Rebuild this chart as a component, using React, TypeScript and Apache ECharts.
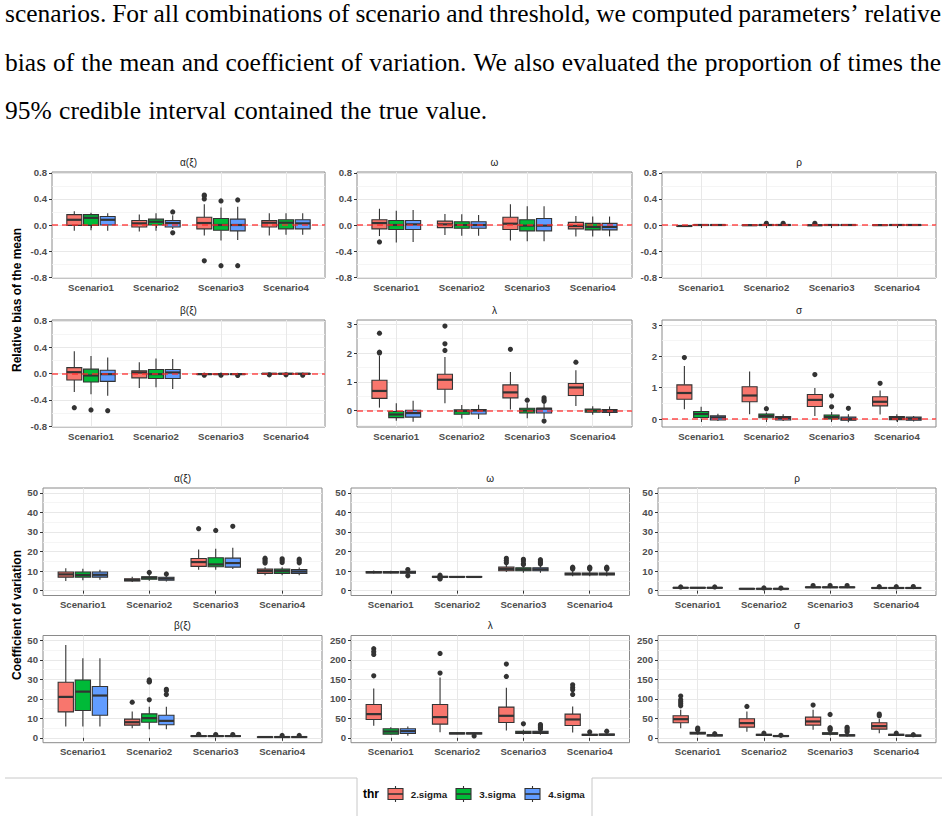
import React, { useEffect, useRef } from 'react';
import * as echarts from 'echarts';

const scenarios = ['Scenario1', 'Scenario2', 'Scenario3', 'Scenario4'];
const thresholds = ['2.sigma', '3.sigma', '4.sigma'];
const thrColors = ['#F8766D', '#00BA38', '#619CFF'];

const paraLines = [
  'scenarios. For all combinations of scenario and threshold, we computed parameters\u2019 relative',
  'bias of the mean and coefficient of variation. We also evaluated the proportion of times the',
  '95% credible interval contained the true value.',
];

// tick values
const rbTicks = [-0.8, -0.4, 0, 0.4, 0.8];
const rbMinor = [-0.6, -0.2, 0.2, 0.6];
const rbWideTicks = [0, 1, 2, 3];
const rbWideMinor = [-0.5, 0.5, 1.5, 2.5];
const cvTicks = [0, 10, 20, 30, 40, 50];
const cvMinor = [5, 15, 25, 35, 45];
const cvWideTicks = [0, 50, 100, 150, 200, 250];
const cvWideMinor = [25, 75, 125, 175, 225];

// Box stats per threshold (2/3/4 sigma): per scenario [lower whisker, Q1, median, Q3, upper whisker]
const rbAlphaBox = [
  [[-0.09, -0.005, 0.08, 0.16, 0.21], [-0.10, -0.03, 0.025, 0.07, 0.16], [-0.16, -0.06, 0.03, 0.12, 0.32], [-0.16, -0.03, 0.035, 0.07, 0.18]],
  [[-0.08, -0.005, 0.11, 0.16, 0.19], [-0.09, 0.0, 0.05, 0.09, 0.18], [-0.24, -0.08, 0.0, 0.10, 0.27], [-0.15, -0.06, 0.035, 0.08, 0.18]],
  [[-0.09, 0.0, 0.08, 0.13, 0.18], [-0.06, -0.03, 0.03, 0.07, 0.15], [-0.23, -0.09, 0.0, 0.09, 0.28], [-0.15, -0.06, 0.025, 0.08, 0.18]],
];
const rbAlphaOut = [
  [[], [], [0.46, 0.445, 0.40, -0.55], []],
  [[], [], [0.37, -0.625], []],
  [[], [0.2, -0.12], [0.385, -0.625], []],
];

const rbOmegaBox = [
  [[-0.17, -0.06, 0.03, 0.08, 0.25], [-0.155, -0.04, 0.01, 0.06, 0.17], [-0.24, -0.07, 0.02, 0.12, 0.32], [-0.175, -0.06, -0.015, 0.04, 0.14]],
  [[-0.27, -0.07, 0.0, 0.07, 0.22], [-0.165, -0.05, 0.0, 0.05, 0.165], [-0.25, -0.09, -0.01, 0.08, 0.29], [-0.175, -0.075, -0.03, 0.025, 0.13]],
  [[-0.26, -0.07, 0.01, 0.07, 0.23], [-0.165, -0.05, 0.0, 0.05, 0.155], [-0.25, -0.09, -0.01, 0.10, 0.29], [-0.175, -0.075, -0.03, 0.025, 0.13]],
];
const rbOmegaOut = [
  [[-0.26], [], [], []],
  [[], [], [], []],
  [[], [], [], []],
];

const rbRhoBox = [
  [[-0.03, -0.022, -0.015, -0.008, 0.0], [-0.012, -0.006, -0.003, 0.0, 0.006], [-0.015, -0.008, -0.004, 0.0, 0.008], [-0.01, -0.005, -0.002, 0.001, 0.006]],
  [[-0.01, -0.004, 0.0, 0.003, 0.008], [-0.008, -0.003, 0.0, 0.003, 0.008], [-0.008, -0.003, 0.0, 0.003, 0.008], [-0.008, -0.003, 0.0, 0.003, 0.008]],
  [[-0.01, -0.004, 0.0, 0.003, 0.008], [-0.008, -0.003, 0.0, 0.003, 0.008], [-0.008, -0.003, 0.0, 0.003, 0.008], [-0.008, -0.003, 0.0, 0.003, 0.008]],
];
const rbRhoOut = [
  [[], [], [0.025], []],
  [[], [0.025], [], []],
  [[], [0.025], [], []],
];

const rbBetaBox = [
  [[-0.28, -0.10, 0.02, 0.09, 0.34], [-0.22, -0.066, 0.015, 0.04, 0.17], [-0.016, -0.012, -0.01, -0.007, -0.004], [-0.008, -0.005, -0.003, -0.001, 0.001]],
  [[-0.316, -0.13, -0.03, 0.066, 0.265], [-0.21, -0.077, -0.01, 0.06, 0.23], [-0.016, -0.012, -0.01, -0.007, -0.004], [-0.008, -0.005, -0.003, -0.001, 0.001]],
  [[-0.34, -0.12, -0.01, 0.05, 0.245], [-0.235, -0.077, 0.015, 0.06, 0.22], [-0.016, -0.012, -0.01, -0.007, -0.004], [-0.008, -0.005, -0.003, -0.001, 0.001]],
];
const rbBetaOut = [
  [[-0.52], [], [-0.025], [-0.02]],
  [[-0.556], [], [-0.025], [-0.02]],
  [[-0.566], [], [-0.03], [-0.025]],
];

const rbLambdaBox = [
  [[0.10, 0.42, 0.68, 1.05, 1.90], [0.25, 0.74, 1.07, 1.26, 1.86], [0.035, 0.44, 0.63, 0.89, 1.34], [0.16, 0.52, 0.80, 0.94, 1.40]],
  [[-0.36, -0.25, -0.14, -0.035, 0.25], [-0.28, -0.13, -0.02, 0.02, 0.19], [-0.27, -0.09, 0.0, 0.08, 0.25], [-0.15, -0.06, 0.0, 0.05, 0.15]],
  [[-0.39, -0.23, -0.09, 0.01, 0.34], [-0.30, -0.12, 0.0, 0.035, 0.20], [-0.27, -0.09, 0.06, 0.08, 0.25], [-0.19, -0.07, -0.01, 0.035, 0.14]],
];
const rbLambdaOut = [
  [[2.69, 2.03, 2.0], [2.94, 2.32, 2.09], [2.13], [1.68]],
  [[], [], [0.36], []],
  [[], [], [0.44, 0.37, 0.32, -0.37], []],
];

const rbSigmaBox = [
  [[0.31, 0.63, 0.83, 1.09, 1.69], [0.15, 0.55, 0.75, 1.03, 1.52], [0.10, 0.40, 0.61, 0.78, 0.99], [0.14, 0.42, 0.55, 0.71, 0.91]],
  [[0.01, 0.05, 0.16, 0.24, 0.39], [0.0, 0.04, 0.10, 0.16, 0.21], [-0.06, 0.0, 0.06, 0.13, 0.22], [-0.08, -0.02, 0.03, 0.08, 0.15]],
  [[-0.06, -0.03, 0.05, 0.10, 0.17], [-0.06, -0.03, 0.03, 0.08, 0.15], [-0.10, -0.04, 0.0, 0.06, 0.15], [-0.08, -0.04, 0.01, 0.06, 0.10]],
];
const rbSigmaOut = [
  [[1.96], [], [1.42], [1.14]],
  [[], [0.33], [0.39, 0.74], []],
  [[], [], [0.34], []],
];

const cvAlphaBox = [
  [[4.9, 6.9, 8.3, 9.5, 11.5], [4.4, 4.9, 5.4, 6.1, 7.1], [10.7, 12.4, 14.6, 16.4, 21.0], [7.8, 8.8, 10.0, 11.0, 11.9]],
  [[5.3, 6.9, 8.0, 9.5, 11.2], [5.1, 5.8, 6.6, 7.1, 8.1], [10.7, 12.2, 13.4, 16.8, 21.4], [7.8, 8.8, 10.0, 11.0, 12.0]],
  [[5.6, 6.9, 8.1, 9.5, 10.7], [4.7, 5.3, 6.1, 6.8, 7.6], [11.0, 12.0, 14.1, 16.6, 21.9], [7.8, 8.8, 9.8, 10.8, 11.8]],
];
const cvAlphaOut = [
  [[], [], [31.7], [16.6, 15.8, 14.9, 14.1]],
  [[], [9.3], [30.8], [16.3, 15.4, 14.4]],
  [[], [8.5], [32.9], [16.1, 15.3, 14.2]],
];

const cvOmegaBox = [
  [[8.7, 9.0, 9.4, 9.8, 10.3], [6.6, 6.8, 7.0, 7.3, 7.6], [9.5, 10.2, 11.0, 12.0, 13.6], [7.3, 8.0, 8.5, 9.0, 10.0]],
  [[8.7, 9.0, 9.4, 9.8, 10.2], [6.7, 6.9, 7.0, 7.2, 7.4], [9.2, 10.2, 10.9, 11.7, 13.0], [7.3, 8.0, 8.5, 9.0, 10.0]],
  [[8.4, 8.9, 9.4, 9.9, 10.4], [6.7, 6.9, 7.0, 7.2, 7.4], [9.2, 10.2, 10.9, 11.7, 13.0], [7.3, 8.0, 8.5, 9.0, 10.0]],
];
const cvOmegaOut = [
  [[], [7.9, 6.3, 6.0], [16.5, 15.4, 14.2], [12.0, 11.5, 11.0]],
  [[], [], [16.0, 15.2, 13.8, 13.3], [12.0, 11.5, 11.0]],
  [[10.8, 7.6], [], [15.8, 15.0, 14.2, 13.6], [12.0, 11.4, 11.0]],
];

const cvRhoBox = [
  [[1.1, 1.3, 1.45, 1.6, 1.8], [0.7, 0.85, 0.95, 1.05, 1.2], [1.3, 1.55, 1.7, 1.85, 2.1], [1.0, 1.2, 1.35, 1.5, 1.7]],
  [[1.1, 1.3, 1.45, 1.6, 1.8], [0.7, 0.85, 0.95, 1.05, 1.2], [1.3, 1.55, 1.7, 1.85, 2.1], [1.0, 1.2, 1.35, 1.5, 1.7]],
  [[1.1, 1.3, 1.45, 1.6, 1.8], [0.7, 0.85, 0.95, 1.05, 1.2], [1.3, 1.55, 1.7, 1.85, 2.1], [1.0, 1.2, 1.35, 1.5, 1.7]],
];
const cvRhoOut = [
  [[1.9], [], [2.6], [2.0]],
  [[], [1.4], [2.6], [2.0]],
  [[1.9], [1.3], [2.6], [2.1]],
];

const cvBetaBox = [
  [[5.8, 13.3, 21.0, 28.5, 47.6], [4.9, 6.5, 8.0, 9.6, 13.5], [0.4, 0.7, 0.9, 1.1, 1.4], [0.2, 0.3, 0.4, 0.5, 0.7]],
  [[5.8, 14.0, 23.7, 29.7, 40.8], [4.4, 8.0, 10.1, 12.3, 16.0], [0.4, 0.7, 0.9, 1.1, 1.4], [0.2, 0.3, 0.4, 0.55, 0.8]],
  [[5.8, 11.6, 21.7, 26.3, 40.8], [4.4, 6.7, 8.7, 11.6, 16.0], [0.4, 0.7, 0.9, 1.1, 1.4], [0.2, 0.3, 0.4, 0.55, 0.8]],
];
const cvBetaOut = [
  [[], [18.3], [1.8], []],
  [[], [28.7, 29.7, 29.0, 19.5], [1.7], [1.2]],
  [[], [24.9, 22.2, 24.2], [1.7], [1.2]],
];

const cvLambdaBox = [
  [[30.8, 47.1, 60.8, 85.6, 126.7], [14, 35.1, 53.1, 85.6, 155], [18.8, 39.4, 56.5, 78.8, 128.4], [13.7, 31.7, 47.1, 60.8, 80.5]],
  [[7.7, 9.4, 16.3, 23.1, 27.4], [9, 10, 11.5, 13, 14], [8, 11, 14, 17, 21], [5.5, 6.5, 7.5, 9, 11]],
  [[5.1, 11.1, 17.1, 23.1, 29.1], [9, 10, 11.5, 13, 14], [8, 11, 14, 17, 20], [5.5, 6.5, 8, 9.5, 12]],
];
const cvLambdaOut = [
  [[228.6, 220.9, 214.0, 159.2], [216.6, 166.1], [189.2, 157.5], [136.1, 129.3, 123.3, 111.3]],
  [[], [], [36], [15]],
  [[], [5], [22, 25, 28, 31, 34], [17]],
];

const cvSigmaBox = [
  [[24.8, 38.5, 47.9, 56.5, 71.9], [15.4, 27.4, 37.7, 48.8, 67.6], [20.5, 32.5, 42.0, 53.1, 71.9], [12, 22.3, 30.0, 38.5, 48]],
  [[8, 10, 12, 14, 18], [5, 6.5, 7.5, 9, 11], [6, 9, 11, 13, 18], [4.5, 6, 7.5, 9, 11]],
  [[4, 5, 6.5, 8, 10], [2.5, 3.5, 4.5, 6, 7], [3, 5, 6.5, 8, 12], [2.5, 4, 5.5, 7, 8]],
];
const cvSigmaOut = [
  [[107, 97.6, 92.5, 87.3, 82.2], [80.5], [83.9], [60.8, 56.5]],
  [[20, 22, 25], [12], [20, 23, 26, 60], [12]],
  [[10.5], [6.5], [15, 19, 24, 27], [8]],
];

const panelTitles = ['\u03b1(\u03be)', '\u03c9', '\u03c1', '\u03b2(\u03be)', '\u03bb', '\u03c3', '\u03b1(\u03be)', '\u03c9', '\u03c1', '\u03b2(\u03be)', '\u03bb', '\u03c3'];
const panelBoxes = [rbAlphaBox, rbOmegaBox, rbRhoBox, rbBetaBox, rbLambdaBox, rbSigmaBox, cvAlphaBox, cvOmegaBox, cvRhoBox, cvBetaBox, cvLambdaBox, cvSigmaBox];
const panelOut = [rbAlphaOut, rbOmegaOut, rbRhoOut, rbBetaOut, rbLambdaOut, rbSigmaOut, cvAlphaOut, cvOmegaOut, cvRhoOut, cvBetaOut, cvLambdaOut, cvSigmaOut];
const panelTicks = [rbTicks, rbTicks, rbTicks, rbTicks, rbWideTicks, rbWideTicks, cvTicks, cvTicks, cvTicks, cvTicks, cvWideTicks, cvWideTicks];
const panelMinor = [rbMinor, rbMinor, rbMinor, rbMinor, rbWideMinor, rbWideMinor, cvMinor, cvMinor, cvMinor, cvMinor, cvWideMinor, cvWideMinor];
const panelRange = [
  [-0.815, 0.815], [-0.815, 0.815], [-0.815, 0.815],
  [-0.815, 0.815], [-0.575, 3.15], [-0.255, 3.16],
  [-2.5, 52.5], [-2.5, 52.5], [-2.5, 52.5],
  [-2.5, 52.5], [-12.5, 262.5], [-12.5, 262.5],
];
const panelDecimals = [1, 1, 1, 1, 0, 0, 0, 0, 0, 0, 0, 0];

// layout (pixels)
const colsTop = [[52, 325], [357, 632], [662, 936]];
const colsBottom = [[43, 322], [351, 629.5], [658, 936]];
const rowsY = [[172, 278], [320, 427], [488, 595.5], [635.5, 742.7]];
const DODGE = 0.257;
const BOXW = 0.23;
const SANS = '"Liberation Sans", Arial, sans-serif';
const SERIF = '"Liberation Serif", "Times New Roman", serif';
const PARA_SIZE = 25.5;

export default function App() {
  const ref = useRef<HTMLDivElement>(null);
  useEffect(() => {
    if (!ref.current) return;
    const chart = echarts.init(ref.current, null, { renderer: 'svg' });
    const grids: any[] = [];
    const xAxes: any[] = [];
    const yAxes: any[] = [];
    const series: any[] = [];
    const graphics: any[] = [];

    const boxRender = (t: number) => (params: any, api: any) => {
      const x = api.value(0);
      const lo = api.coord([x, api.value(1)]);
      const q1 = api.coord([x, api.value(2)]);
      const md = api.coord([x, api.value(3)]);
      const q3 = api.coord([x, api.value(4)]);
      const hi = api.coord([x, api.value(5)]);
      const unit = api.size([1, 0], [x, api.value(3)])[0];
      const cx = md[0] + (t - 1) * unit * DODGE;
      const hw = (unit * BOXW) / 2;
      const stroke = '#333333';
      return {
        type: 'group',
        children: [
          { type: 'line', shape: { x1: cx, y1: hi[1], x2: cx, y2: q3[1] }, style: { stroke, lineWidth: 1.1 } },
          { type: 'line', shape: { x1: cx, y1: q1[1], x2: cx, y2: lo[1] }, style: { stroke, lineWidth: 1.1 } },
          { type: 'rect', shape: { x: cx - hw, y: q3[1], width: hw * 2, height: Math.max(q1[1] - q3[1], 0.5) }, style: { fill: thrColors[t], stroke, lineWidth: 1.1 } },
          { type: 'line', shape: { x1: cx - hw, y1: md[1], x2: cx + hw, y2: md[1] }, style: { stroke, lineWidth: 2.2 } },
        ],
      };
    };
    const outRender = (t: number) => (params: any, api: any) => {
      const x = api.value(0);
      const p = api.coord([x, api.value(1)]);
      const unit = api.size([1, 0], [x, api.value(1)])[0];
      const cx = p[0] + (t - 1) * unit * DODGE;
      return { type: 'circle', shape: { cx, cy: p[1], r: 2.6 }, style: { fill: '#333333' } };
    };

    panelTitles.forEach((title, i) => {
      const row = Math.floor(i / 3);
      const col = i % 3;
      const cols = row < 2 ? colsTop : colsBottom;
      const [l, r] = cols[col];
      const [t, b] = rowsY[row];
      grids.push({ left: l, top: t, width: r - l, height: b - t, show: true, borderColor: '#8a8a8a', borderWidth: 1, backgroundColor: '#ffffff', containLabel: false });
      xAxes.push({
        gridIndex: i, type: 'value', min: 0.4, max: 4.6,
        axisLine: { show: false },
        axisTick: { show: true, length: 3, customValues: [1, 2, 3, 4], lineStyle: { color: '#333', width: 1 } },
        axisLabel: { customValues: [1, 2, 3, 4], formatter: (v: number) => scenarios[Math.round(v) - 1], color: '#4d4d4d', fontWeight: 'bold', fontSize: 9.6, fontFamily: SANS, margin: 4 },
        splitLine: { show: true, lineStyle: { color: '#e8e8e8', width: 1 } },
      });
      const dec = panelDecimals[i];
      const [ymin, ymax] = panelRange[i];
      yAxes.push({
        gridIndex: i, type: 'value', min: ymin, max: ymax, position: 'left',
        axisLine: { show: false },
        axisTick: { show: true, length: 3, customValues: panelTicks[i], lineStyle: { color: '#333', width: 1 } },
        axisLabel: { customValues: panelTicks[i], formatter: (v: number) => v.toFixed(dec), color: '#4d4d4d', fontWeight: 'bold', fontSize: 9.6, fontFamily: SANS, margin: 5 },
        splitLine: { show: true, lineStyle: { color: '#e8e8e8', width: 1 } },
      });
      yAxes.push({
        gridIndex: i, type: 'value', min: ymin, max: ymax, position: 'right',
        axisLine: { show: false },
        axisTick: { show: false, customValues: panelMinor[i] },
        axisLabel: { show: false },
        splitLine: { show: true, lineStyle: { color: '#f3f3f3', width: 0.8 } },
      });
      const boxes = panelBoxes[i];
      const outs = panelOut[i];
      for (let k = 0; k < 3; k++) {
        series.push({
          type: 'custom', name: thresholds[k], xAxisIndex: i, yAxisIndex: 2 * i, z: 3, silent: true,
          renderItem: boxRender(k),
          encode: { x: 0, y: [1, 2, 3, 4, 5] },
          data: boxes[k].map((s, si) => [si + 1, ...s]),
        });
        const pts: number[][] = [];
        outs[k].forEach((vals, si) => vals.forEach((v) => pts.push([si + 1, v])));
        if (pts.length) {
          series.push({
            type: 'custom', name: thresholds[k] + ' outliers', xAxisIndex: i, yAxisIndex: 2 * i, z: 4, silent: true,
            renderItem: outRender(k), encode: { x: 0, y: 1 }, data: pts,
          });
        }
      }
      if (row < 2) {
        series.push({
          type: 'line', xAxisIndex: i, yAxisIndex: 2 * i, data: [], silent: true, z: 10,
          markLine: {
            silent: true, symbol: ['none', 'none'], label: { show: false }, z: 10,
            lineStyle: { color: '#ff2a2a', type: [6, 4], width: 1.5, opacity: 0.85 },
            data: [{ yAxis: 0 }],
          },
        });
      }
      graphics.push({
        type: 'text', x: (l + r) / 2, y: t - 10,
        style: { text: title, fontSize: 10, fontFamily: SANS, fill: '#1a1a1a', textAlign: 'center', align: 'center', textVerticalAlign: 'middle', verticalAlign: 'middle' },
      });
    });

    // axis titles
    [['Relative bias of the mean', 300], ['Coefficient of variation', 615]].forEach(([txt, cy]) => {
      graphics.push({
        type: 'text', x: 17, y: cy as number, rotation: Math.PI / 2,
        style: { text: txt as string, x: 0, y: 0, fontSize: 12, fontWeight: 'bold', fontFamily: SANS, fill: '#000', textAlign: 'center', align: 'center', textVerticalAlign: 'middle', verticalAlign: 'middle' },
      });
    });

    // paragraph text (justified)
    const cvs = document.createElement('canvas');
    const ctx = cvs.getContext('2d')!;
    ctx.font = `${PARA_SIZE}px ${SERIF}`;
    const lineY = [13, 62, 110];
    const leftX = 5;
    const rightX = 941;
    paraLines.forEach((line, li) => {
      const words = line.split(' ');
      const widths = words.map((w) => ctx.measureText(w).width);
      const total = widths.reduce((a, b) => a + b, 0);
      const justify = li < 2;
      const gap = justify ? (rightX - leftX - total) / (words.length - 1) : ctx.measureText(' ').width * 1.15;
      let x = leftX;
      words.forEach((w, wi) => {
        graphics.push({
          type: 'text', x, y: lineY[li],
          style: { text: w, fontSize: PARA_SIZE, fontFamily: SERIF, fill: '#000', textAlign: 'left', align: 'left', textVerticalAlign: 'middle', verticalAlign: 'middle' },
        });
        x += widths[wi] + gap;
      });
    });

    // legend
    const legendLine = { stroke: '#c8c8c8', lineWidth: 1 };
    graphics.push({ type: 'line', shape: { x1: 5, y1: 778, x2: 357, y2: 778 }, style: legendLine });
    graphics.push({ type: 'line', shape: { x1: 357, y1: 778, x2: 357, y2: 816 }, style: legendLine });
    graphics.push({ type: 'line', shape: { x1: 592, y1: 778, x2: 942, y2: 778 }, style: legendLine });
    graphics.push({ type: 'line', shape: { x1: 592, y1: 778, x2: 592, y2: 816 }, style: legendLine });
    graphics.push({
      type: 'text', x: 363, y: 794,
      style: { text: 'thr', fontSize: 12, fontWeight: 'bold', fontFamily: SANS, fill: '#000', textAlign: 'left', align: 'left', textVerticalAlign: 'middle', verticalAlign: 'middle' },
    });
    const keyX = [388, 456, 525];
    const labX = [410.7, 479.3, 548.3];
    thresholds.forEach((th, k) => {
      const x0 = keyX[k];
      const cx = x0 + 7.5;
      graphics.push({
        type: 'group',
        children: [
          { type: 'line', shape: { x1: cx, y1: 786, x2: cx, y2: 788.5 }, style: { stroke: '#333', lineWidth: 1.1 } },
          { type: 'line', shape: { x1: cx, y1: 799.5, x2: cx, y2: 802 }, style: { stroke: '#333', lineWidth: 1.1 } },
          { type: 'rect', shape: { x: x0, y: 788.5, width: 15, height: 11 }, style: { fill: thrColors[k], stroke: '#333', lineWidth: 1.1 } },
          { type: 'line', shape: { x1: x0, y1: 794, x2: x0 + 15, y2: 794 }, style: { stroke: '#333', lineWidth: 1.6 } },
        ],
      });
      graphics.push({
        type: 'text', x: labX[k], y: 794,
        style: { text: th, fontSize: 9.8, fontWeight: 'bold', fontFamily: SANS, fill: '#1a1a1a', textAlign: 'left', align: 'left', textVerticalAlign: 'middle', verticalAlign: 'middle' },
      });
    });

    chart.setOption({
      animation: false,
      backgroundColor: '#ffffff',
      textStyle: { fontFamily: SANS },
      grid: grids,
      xAxis: xAxes,
      yAxis: yAxes,
      series,
      graphic: { elements: graphics },
    });
    return () => chart.dispose();
  }, []);
  return <div ref={ref} style={{ position: 'fixed', left: 0, top: 0, width: 949, height: 816 }} />;
}
